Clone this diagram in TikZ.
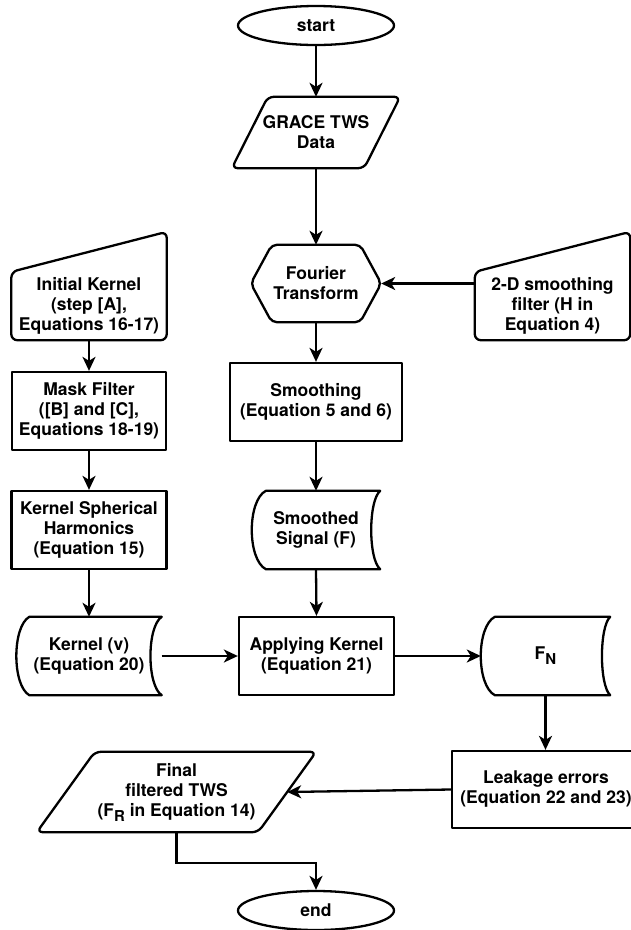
\documentclass[tikz,border=0pt]{standalone}
\usepackage{fontspec}
\setmainfont{TeX Gyre Heros}
\usetikzlibrary{shapes.geometric,arrows.meta}

\tikzset{
  outl/.style={line width=2.3pt, line join=round},
  arr/.style={line width=2.3pt, -{Stealth[length=14pt,width=13pt,inset=4pt]}},
  txt/.style={align=center, inner sep=0pt, font=\bfseries\fontsize{17.5}{20}\selectfont},
  term/.style={txt, ellipse, draw, outl, minimum width=156pt, minimum height=39pt},
  procbox/.style={txt, rectangle, draw, outl},
}

\newcommand{\lowsub}[1]{\raisebox{-5pt}{\fontsize{15}{15}\selectfont #1}}
% outlines drawn round the (invisible) text nodes
\newcommand{\drawpara}[2]{%
  \draw[outl, rounded corners=6pt] (#1.south west) -- ([xshift=-#2]#1.south east)
    -- (#1.north east) -- ([xshift=#2]#1.north west) -- cycle;}
\newcommand{\drawmanual}[2]{%
  \draw[outl, rounded corners=6pt] (#1.north west) -- ([yshift=#2]#1.north east)
    -- (#1.south east) -- (#1.south west) -- cycle;}
\newcommand{\drawhex}[2]{%
  \draw[outl, rounded corners=5pt] (#1.west) -- ([xshift=#2]#1.north west)
    -- ([xshift=-#2]#1.north east) -- (#1.east) -- ([xshift=-#2]#1.south east)
    -- ([xshift=#2]#1.south west) -- cycle;}
% node, left inset, left control, right control
\newcommand{\drawstored}[4]{%
  \draw[outl] ([xshift=#2]#1.north west) -- (#1.north east)
    .. controls ([xshift=#4,yshift=-10pt]#1.north east) and ([xshift=#4,yshift=10pt]#1.south east) .. (#1.south east)
    -- ([xshift=#2]#1.south west)
    .. controls ([xshift=#3,yshift=10pt]#1.south west) and ([xshift=#3,yshift=-10pt]#1.north west) .. ([xshift=#2]#1.north west)
    -- cycle;}

\begin{document}
\begin{tikzpicture}[x=1pt,y=-1pt]
  \useasboundingbox (0,0) rectangle (631,930);

  % main column
  \node[term] (start) at (316,25.5) {start};
  \node[txt, minimum width=168pt, minimum height=71pt] (grace) at (316,132.5) {GRACE TWS\\Data};
  \node[txt, minimum width=130pt, minimum height=77pt] (fourier) at (316,283.5) {Fourier\\Transform};
  \node[procbox, minimum width=172pt, minimum height=78pt] (smooth) at (316,402) {Smoothing\\(Equation 5 and 6)};
  \node[txt, minimum width=128pt, minimum height=78pt] (smsig) at (316,530) {Smoothed\\Signal (F)};
  \node[procbox, minimum width=155pt, minimum height=78pt] (apply) at (316.5,656) {Applying Kernel\\(Equation 21)};

  % kernel column
  \node[txt, minimum width=155pt, minimum height=68pt] (ikern) at (89,306) {Initial Kernel\\(step [A],\\Equations 16-17)};
  \node[procbox, minimum width=154pt, minimum height=78pt] (mask) at (89,411) {Mask Filter\\([B] and [C],\\Equations 18-19)};
  \node[procbox, minimum width=155pt, minimum height=78pt] (kshp) at (89,530) {Kernel Spherical\\Harmonics\\(Equation 15)};
  \node[txt, minimum width=145pt, minimum height=78pt] (kernv) at (89,656) {Kernel (v)\\(Equation 20)};

  % right side
  \node[txt, minimum width=155pt, minimum height=68pt] (smfilter) at (552.5,306) {2-D smoothing\\filter (H in\\Equation 4)};
  \node[txt, minimum width=129pt, minimum height=78pt] (fn) at (545.5,656) {F\lowsub{N}};
  \node[procbox, minimum width=188pt, minimum height=77pt] (leak) at (546,789.5) {Leakage errors\\(Equation 22 and 23)};
  \node[txt, minimum width=279pt, minimum height=80pt] (final) at (176.5,792) {Final\\filtered TWS\\(F\lowsub{R} in Equation 14)};
  \node[term] (end) at (316,910.5) {end};

  \drawpara{grace}{36pt}
  \drawhex{fourier}{21pt}
  \drawmanual{ikern}{40pt}
  \drawmanual{smfilter}{40pt}
  \drawstored{smsig}{14pt}{-4.7pt}{-12pt}
  \drawstored{kernv}{13pt}{-4.3pt}{-15pt}
  \drawstored{fn}{14pt}{-4.7pt}{-11pt}
  \drawpara{final}{58pt}

  \draw[arr] (start.south) -- (grace.north);
  \draw[arr] (grace.south) -- (fourier.north);
  \draw[arr] (fourier.east -| smfilter.west) -- (fourier.east);
  \draw[arr] (fourier.south) -- (smooth.north);
  \draw[arr] (smooth.south) -- (smsig.north);
  \draw[arr] (smsig.south) -- (apply.north);
  \draw[arr] (ikern.south) -- (mask.north);
  \draw[arr] (mask.south) -- (kshp.north);
  \draw[arr] (kshp.south) -- (kernv.north);
  \draw[arr] (kernv.east) -- (apply.west);
  \draw[arr] (apply.east) -- (fn.west);
  \draw[arr] (fn.south) -- (fn.south |- leak.north);
  \draw[arr] (leak.west) -- ([xshift=-29pt]final.east);
  \draw[arr] (final.south) -- ++(0,31) -| (end.north);
\end{tikzpicture}
\end{document}
